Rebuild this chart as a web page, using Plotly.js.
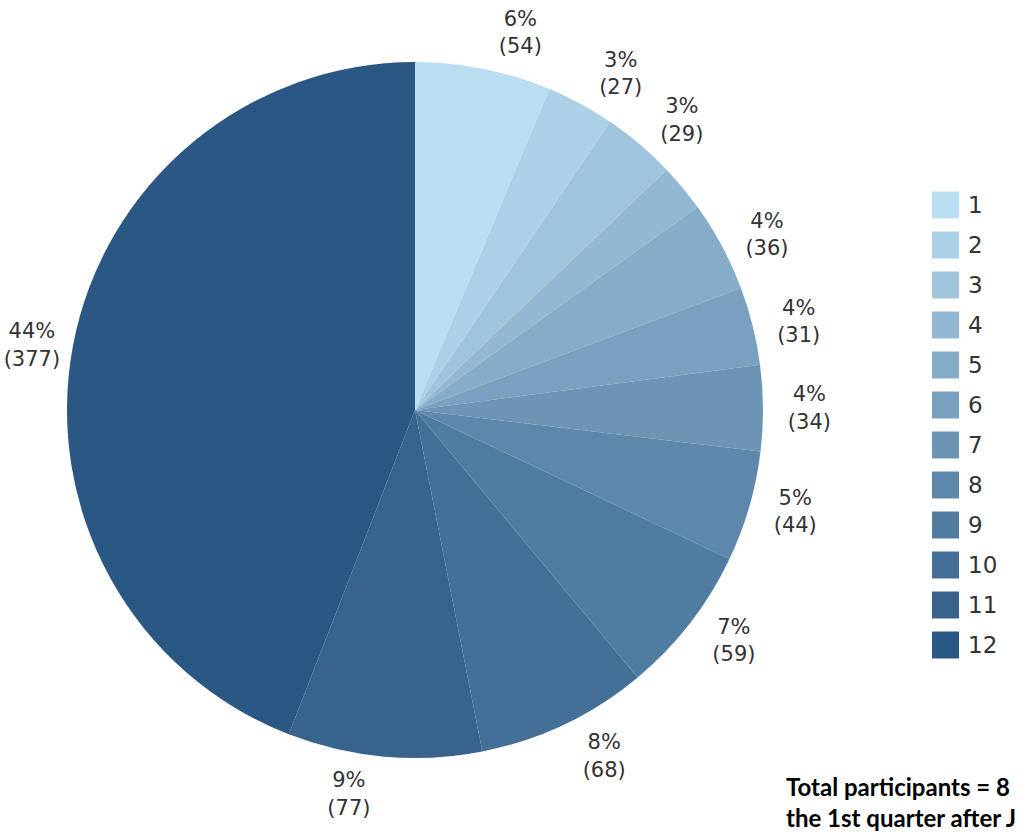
<!DOCTYPE html>
<html>
<head>
<meta charset="utf-8">
<script src="https://cdn.plot.ly/plotly-3.0.1.min.js"></script>
<style>html,body{margin:0;padding:0;background:#fff;}#chart{width:1019px;height:836px;}</style>
</head>
<body>
<div id="chart"></div>
<script>
// Data
const categories = ["1","2","3","4","5","6","7","8","9","10","11","12"];
const counts = [54, 27, 29, 19, 36, 31, 34, 44, 59, 68, 77, 377];
const footnoteLine1 = "Total participants = 8";
const footnoteLine2 = "the 1st quarter after J";

// Styles
const colors = ["#b9ddf1","#acd1e7","#9fc5dd","#92b8d3","#85acc9","#78a0bf",
                "#6b94b5","#5e88ab","#517ca1","#446f97","#37638d","#2a5783"];
// which label set draws each slice's label (0 = hidden, as in the original)
const labelSet = [1, 2, 1, 0, 2, 1, 2, 1, 2, 1, 2, 3];

const W = 1019, H = 836;
const px = x => x / W;
const py = y => 1 - y / H;
const pieDomain = {x: [px(67), px(763)], y: [py(758), py(62)]};
const labelDomain = {x: [px(55), px(775)], y: [py(770), py(50)]};
const labelFont = {family: "DejaVu Sans, Verdana, sans-serif", size: 21, color: "#333333"};
const clear = categories.map(() => "rgba(0,0,0,0)");

function pieTrace(fill, domain, setId) {
  return {
    type: "pie",
    labels: categories,
    values: counts,
    sort: false,
    direction: "clockwise",
    rotation: 0,
    marker: {colors: fill, line: {width: 0}},
    texttemplate: "%{percent:.0%}<br>(%{value})",
    textposition: labelSet.map(s => s === setId ? "outside" : "none"),
    outsidetextfont: labelFont,
    domain: domain,
    showlegend: false,
    hoverinfo: "skip"
  };
}

const traces = [
  pieTrace(colors, pieDomain, 3),
  pieTrace(clear, labelDomain, 1),
  pieTrace(clear, labelDomain, 2)
];

// Custom legend built from categories/colors
const shapes = [];
const annotations = [];
const legTop = 205, legStep = 40, sw = 27, legX = 932;
categories.forEach((c, i) => {
  const cy = legTop + i * legStep;
  shapes.push({type: "rect", xref: "paper", yref: "paper",
    x0: px(legX), x1: px(legX + sw), y0: py(cy + sw/2), y1: py(cy - sw/2),
    fillcolor: colors[i], line: {width: 0}});
  annotations.push({xref: "paper", yref: "paper", x: px(legX + sw + 7), y: py(cy),
    xanchor: "left", yanchor: "middle", text: c, showarrow: false,
    font: {family: "DejaVu Sans, Verdana, sans-serif", size: 23, color: "#333333"}});
});
annotations.push({xref: "paper", yref: "paper", x: px(784), y: py(770),
  xanchor: "left", yanchor: "top", align: "left",
  text: "<b>" + footnoteLine1 + "<br>" + footnoteLine2 + "</b>",
  showarrow: false,
  font: {family: "Lato, DejaVu Sans, sans-serif", size: 24, color: "#000000"}});

const layout = {
  width: W, height: H,
  margin: {l: 0, r: 0, t: 0, b: 0},
  paper_bgcolor: "#ffffff",
  showlegend: false,
  shapes: shapes,
  annotations: annotations
};

Plotly.newPlot("chart", traces, layout, {displayModeBar: false, staticPlot: true});
</script>
</body>
</html>
